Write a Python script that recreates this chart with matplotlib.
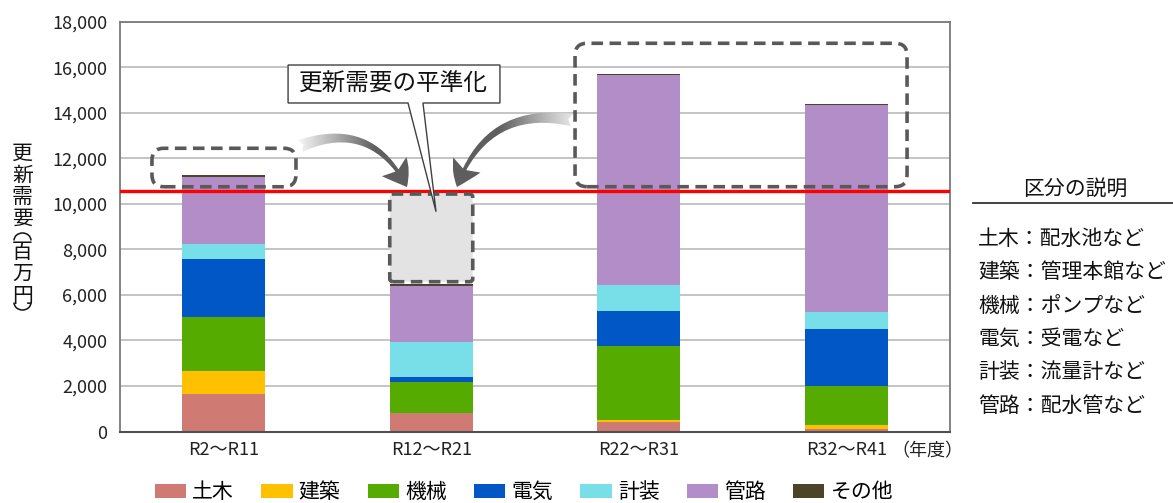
import matplotlib
matplotlib.use("Agg")
import matplotlib.pyplot as plt
import matplotlib.transforms as mtransforms
import numpy as np
from matplotlib.patches import FancyBboxPatch, Polygon, FancyArrowPatch, Patch, Arc
from matplotlib.lines import Line2D
from matplotlib.colors import LinearSegmentedColormap
from matplotlib.ticker import FuncFormatter, MultipleLocator

plt.rcParams['font.family'] = ['Noto Sans CJK JP', 'DejaVu Sans']

# ---- data -------------------------------------------------------------
periods = ["R2～R11", "R12～R21", "R22～R31", "R32～R41"]
categories = ["土木", "建築", "機械", "電気", "計装", "管路", "その他"]
doboku = [1650, 800, 440, 100]
kenchiku = [990, 0, 75, 200]
kikai = [2400, 1370, 3230, 1690]
denki = [2520, 210, 1540, 2520]
keisou = [660, 1530, 1140, 760]
kanro = [2970, 2500, 9240, 9060]
sonota = [70, 60, 30, 75]
leveled_target = 10550

descriptions = ["土木：配水池など", "建築：管理本館など", "機械：ポンプなど",
                "電気：受電など", "計装：流量計など", "管路：配水管など"]

colors = ["#D07A74", "#FFC000", "#55AB00", "#0057C5", "#78DEE8", "#B38DC7", "#4B4429"]

series = [doboku, kenchiku, kikai, denki, keisou, kanro, sonota]

W, H = 1173, 503

# ---- figure -----------------------------------------------------------
fig = plt.figure(figsize=(W / 100, H / 100), dpi=100)
ax = fig.add_axes([0.1023, 0.1421, 0.7076, 0.8148])

x = np.arange(len(periods))
bar_w = 0.4
bottom = np.zeros(len(periods))
for vals, col in zip(series, colors):
    ax.bar(x, vals, bar_w, bottom=bottom, color=col, linewidth=0, zorder=2)
    bottom += np.array(vals)

ax.set_xlim(-0.5, 3.5)
ax.set_ylim(0, 18000)
ax.yaxis.set_major_locator(MultipleLocator(2000))
ax.yaxis.set_major_formatter(FuncFormatter(lambda v, p: f"{int(v):,}"))
ax.grid(axis='y', color='#BFBFBF', linewidth=1.3, zorder=0)
ax.set_axisbelow(True)
ax.set_xticks(x)
ax.set_xticklabels(periods)
ax.tick_params(axis='both', length=0, labelsize=13, colors='#222222')
ax.tick_params(axis='y', pad=9)
ax.tick_params(axis='x', pad=7)
for s in ['left', 'right', 'top']:
    ax.spines[s].set_color('#7A7A7A')
    ax.spines[s].set_linewidth(1.3)
ax.spines['bottom'].set_color('#505050')
ax.spines['bottom'].set_linewidth(1.5)

xy_trans = mtransforms.blended_transform_factory(ax.transData, ax.transAxes)
ax.text(3.39, -0.047, "（年度）", transform=xy_trans, ha='center', va='center',
        fontsize=13, color='#222222')

# leveled demand line
ax.axhline(leveled_target, color='#FF0000', linewidth=2.4, zorder=4)

# ---- dashed highlight boxes --------------------------------------------
bbox_px = ax.get_window_extent()
px_per_x = bbox_px.width / 4.0
px_per_y = bbox_px.height / 18000.0
aspect = px_per_x / px_per_y


def dashed_box(x0, y0, x1, y1, radius_px, face='none'):
    p = FancyBboxPatch((x0, y0), x1 - x0, y1 - y0,
                       boxstyle=f"round,pad=0,rounding_size={radius_px / px_per_x}",
                       mutation_aspect=aspect, facecolor=face, edgecolor='#595959',
                       linewidth=2.6, linestyle=(0, (3.2, 1.8)), zorder=5)
    ax.add_patch(p)


dashed_box(-0.346, 10750, 0.348, 12440, 12)
dashed_box(1.693, 10752, 3.293, 17051, 12)
dashed_box(0.8, 6580, 1.2, 10430, 3, face='#E3E3E3')

# ---- curved arrows with fading tails -----------------------------------
fade = LinearSegmentedColormap.from_list('fade', [(0, '#FAFAFA'), (0.3, '#B5B5B5'),
                                                  (0.65, '#5E5E5E'), (1, '#5E5E5E')])


def fading_arrow(tail, head, rad):
    arr = FancyArrowPatch(tail, head, connectionstyle=f"arc3,rad={rad}",
                          arrowstyle="fancy,head_length=0.62,head_width=0.8,tail_width=0.32",
                          mutation_scale=28, shrinkA=0, shrinkB=0,
                          facecolor='none', edgecolor='none', zorder=5)
    ax.add_patch(arr)
    grad = np.linspace(0, 1, 256).reshape(1, -1)
    if tail[0] > head[0]:
        grad = grad[:, ::-1]
    xs = sorted([tail[0], head[0]])
    ys = [min(tail[1], head[1]) - 2000, max(tail[1], head[1]) + 2500]
    im = ax.imshow(grad, extent=[xs[0] - 0.02, xs[1] + 0.05, ys[0], ys[1]],
                   aspect='auto', cmap=fade, zorder=6, interpolation='bilinear')
    im.set_clip_path(arr)


fading_arrow((0.367, 12540), (0.883, 10739), -0.45)
fading_arrow((1.678, 13682), (1.124, 10739), 0.42)
ax.set_xlim(-0.5, 3.5)
ax.set_ylim(0, 18000)

# ---- callout -------------------------------------------------------------
callout = Polygon([(0.310, 16097), (1.331, 16097), (1.331, 14429), (0.960, 14429),
                   (1.023, 9654), (0.888, 14429), (0.310, 14429)],
                  closed=True, facecolor='white', edgecolor='#404040', linewidth=1.0, zorder=8)
ax.add_patch(callout)
ax.text(0.82, 15263, "更新需要の平準化", ha='center', va='center', fontsize=17,
        color='#111111', zorder=9)

# ---- vertical y label (stacked characters, arched brackets) -------------
label_x = 22.5
for ch, yc in zip("更新需要", [154, 175.5, 197, 218.5]):
    fig.text(label_x / W, 1 - yc / H, ch, ha='center', va='center', fontsize=15, color='#111111')
for ch, yc in zip("百万円", [252, 274, 296]):
    fig.text(label_x / W, 1 - yc / H, ch, ha='center', va='center', fontsize=15, color='#111111')
# vertical-writing brackets drawn as half ellipses
fig.add_artist(Arc((label_x / W, 1 - 240.5 / H), 17 / W, 15 / H, theta1=0, theta2=180,
                   transform=fig.transFigure, color='#111111', linewidth=1.1))
fig.add_artist(Arc((label_x / W, 1 - 302.5 / H), 17 / W, 15 / H, theta1=180, theta2=360,
                   transform=fig.transFigure, color='#111111', linewidth=1.1))

# ---- legend ----------------------------------------------------------------
handles = [Patch(facecolor=c, edgecolor='none') for c in colors]
fig.legend(handles, categories, loc='center', bbox_to_anchor=(524 / W, 1 - 492 / H),
           ncol=7, frameon=False, fontsize=15, handlelength=1.5, handleheight=0.67,
           handletextpad=0.3, columnspacing=1.3)

# ---- category descriptions --------------------------------------------------
fig.text(1075 / W, 1 - 189 / H, "区分の説明", ha='center', va='center', fontsize=15,
         color='#111111')
fig.add_artist(Line2D([973 / W, 1.0], [1 - 203 / H] * 2, color='#333333', linewidth=1.3))
for i, d in enumerate(descriptions):
    fig.text(978 / W, 1 - (239 + 33.3 * i) / H, d, ha='left', va='center',
             fontsize=15, color='#111111')

fig.savefig("out.png", dpi=100)
